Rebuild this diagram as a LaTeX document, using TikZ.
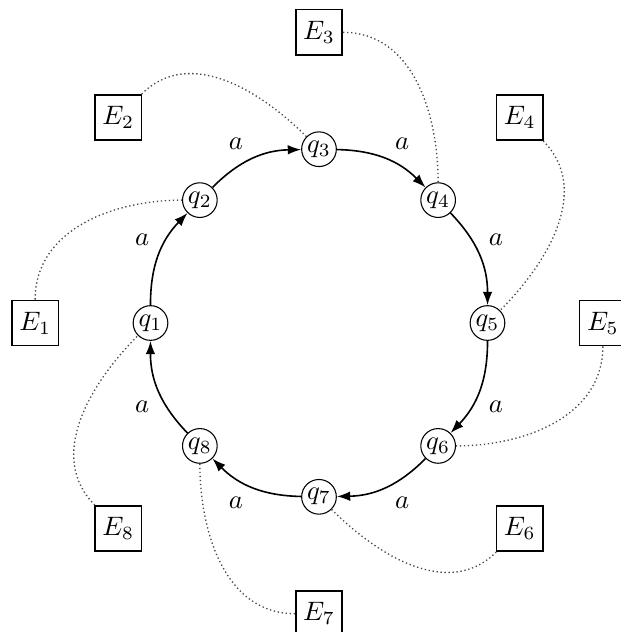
\documentclass[tikz,border=0pt]{standalone}
\usepackage{amsmath,amssymb}
\usepackage{tikz}
\usepackage{xcolor}
\usetikzlibrary{positioning,arrows.meta,calc}
\definecolor{trail}{HTML}{4A4A4A}

\tikzset{
  state/.style={circle,draw,inner sep=0.6pt,minimum size=13pt},
  envbox/.style={draw,rectangle,semithick,inner sep=2.8pt,minimum height=17pt},
  trans/.style={-{Latex[length=5pt,width=3.6pt]},semithick},
  link/.style={densely dotted,trail,line width=0.5pt}
}

\begin{document}
\begin{tikzpicture}
  \useasboundingbox (-4.203,-4.071) rectangle (3.979,4.256);
  % states on the ring, environments outside
  \foreach \i in {1,...,8} {
    \pgfmathtruncatemacro\ang{180-45*(\i-1)}
    \node[state] (q\i) at ({2.22*cos(\ang)},{2.29*sin(\ang)}) {$q_{\i}$};
    \node[envbox] (E\i) at ({3.74*cos(\ang)},{3.83*sin(\ang)}) {$E_{\i}$};
  }
  \foreach \i in {1,...,8} {
    \pgfmathtruncatemacro\j{mod(\i,8)+1}
    \pgfmathtruncatemacro\ang{180-45*(\i-1)}
    \pgfmathtruncatemacro\outang{\ang-90}
    \draw[trans] (q\i) to[bend left=22] node[auto] {$a$} (q\j);
    \draw[link] (E\i) to[out=\outang,in=\ang] (q\j);
  }
\end{tikzpicture}
\end{document}
